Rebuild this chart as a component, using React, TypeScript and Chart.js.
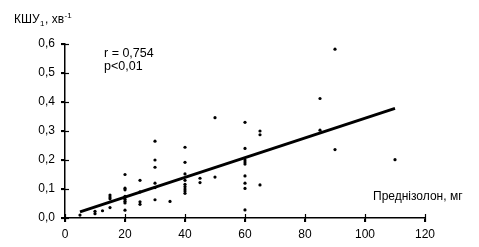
import React, { useEffect, useRef } from "react";
import { Chart, registerables } from "chart.js";

Chart.register(...registerables);

// Prednisolone dose (mg)
const doseMg: number[] = [
  5,
  10, 10,
  12.5,
  15, 15, 15, 15,
  20, 20, 20, 20, 20, 20, 20, 20,
  25, 25, 25, 25,
  30, 30, 30, 30, 30, 30,
  35,
  40, 40, 40, 40, 40, 40, 40, 40, 40,
  45, 45,
  50, 50,
  60, 60, 60, 60, 60, 60, 60, 60, 60,
  65, 65, 65,
  85, 85,
  90, 90,
  110,
];
// KSHU values (min^-1)
const kshu: number[] = [
  0.01,
  0.023, 0.015,
  0.025,
  0.079, 0.072, 0.066, 0.036,
  0.15, 0.103, 0.097, 0.075, 0.065, 0.058, 0.052, 0.027,
  0.13, 0.09, 0.056, 0.047,
  0.265, 0.2, 0.175, 0.12, 0.105, 0.063,
  0.057,
  0.244, 0.192, 0.152, 0.13, 0.116, 0.108, 0.1, 0.093, 0.085,
  0.137, 0.122,
  0.346, 0.141,
  0.33, 0.24, 0.2, 0.193, 0.186, 0.145, 0.12, 0.102, 0.028,
  0.3, 0.287, 0.114,
  0.412, 0.303,
  0.582, 0.236,
  0.201,
];
// Regression line endpoints
const trendX: number[] = [5, 110];
const trendY: number[] = [0.021, 0.378];

const xTicks: number[] = [0, 20, 40, 60, 80, 100, 120];
const yTicks: number[] = [0, 0.1, 0.2, 0.3, 0.4, 0.5, 0.6];

const statText: string[] = ["r = 0,754", "p<0,01"];
const xTitle = "Преднізолон, мг";

const FONT = "'Liberation Sans', Arial, sans-serif";

export default function App() {
  const ref = useRef<HTMLCanvasElement | null>(null);

  useEffect(() => {
    if (!ref.current) return;
    const textPlugin = {
      id: "extras",
      afterDraw(chart: any) {
        const ctx = chart.ctx;
        const xs = chart.scales.x;
        const ys = chart.scales.y;
        ctx.save();
        // inner halves of the crossing ticks
        ctx.strokeStyle = "#000";
        ctx.lineWidth = 1.2;
        const left = chart.chartArea.left;
        const bottom = chart.chartArea.bottom;
        yTicks.forEach((v) => {
          const y = Math.round(ys.getPixelForValue(v)) + 0.5;
          ctx.beginPath();
          ctx.moveTo(left - 4, y);
          ctx.lineTo(left + 4, y);
          ctx.stroke();
        });
        xTicks.forEach((v) => {
          const x = Math.round(xs.getPixelForValue(v)) + 0.5;
          ctx.beginPath();
          ctx.moveTo(x, bottom + 4);
          ctx.lineTo(x, bottom - 4);
          ctx.stroke();
        });
        ctx.fillStyle = "#000";
        ctx.textBaseline = "alphabetic";
        ctx.textAlign = "left";
        // y title with subscript and superscript
        ctx.font = `12px ${FONT}`;
        let x = 14;
        const base = 23;
        ctx.fillText("КШУ", x, base);
        x += ctx.measureText("КШУ").width;
        ctx.font = `8px ${FONT}`;
        ctx.fillText("1", x + 0.5, base + 3);
        x += ctx.measureText("1").width + 1;
        ctx.font = `12px ${FONT}`;
        ctx.fillText(", хв", x, base);
        x += ctx.measureText(", хв").width;
        ctx.font = `8px ${FONT}`;
        ctx.fillText("-1", x + 0.5, base - 5);
        // stats
        ctx.font = `12.5px ${FONT}`;
        ctx.fillText(statText[0], 104, 57);
        ctx.fillText(statText[1], 104, 70);
        // x title
        ctx.font = `12px ${FONT}`;
        ctx.fillText(xTitle, 373, 200);
        ctx.restore();
      },
    };

    const fmtY = (v: any) => Number(v).toFixed(1).replace(".", ",");

    const chart = new Chart(ref.current, {
      type: "scatter",
      data: {
        datasets: [
          {
            type: "scatter",
            data: doseMg.map((d, i) => ({ x: d, y: kshu[i] })),
            pointRadius: 1.6,
            pointBackgroundColor: "#000",
            pointBorderWidth: 0,
            borderColor: "#000",
          },
          {
            type: "line",
            data: trendX.map((d, i) => ({ x: d, y: trendY[i] })),
            borderColor: "#000",
            borderWidth: 3,
            pointRadius: 0,
            fill: false,
          } as any,
        ],
      },
      options: {
        animation: false,
        responsive: false,
        maintainAspectRatio: false,
        devicePixelRatio: 1,
        layout: { padding: { left: 0, top: 44, right: 54, bottom: 0 } },
        plugins: { legend: { display: false }, tooltip: { enabled: false } },
        scales: {
          x: {
            type: "linear",
            min: 0,
            max: 120,
            afterBuildTicks: (s: any) => {
              s.ticks = xTicks.map((v) => ({ value: v }));
            },
            afterFit: (s: any) => {
              s.height = 29;
            },
            ticks: {
              color: "#000",
              font: { family: FONT, size: 12 },
              padding: 5,
              maxRotation: 0,
              autoSkip: false,
            },
            grid: {
              drawOnChartArea: false,
              drawTicks: true,
              tickLength: 4,
              color: "#000",
              lineWidth: 1.2,
            },
            border: { display: true, color: "#000", width: 1.5 },
          },
          y: {
            type: "linear",
            min: 0,
            max: 0.6,
            afterBuildTicks: (s: any) => {
              s.ticks = yTicks.map((v) => ({ value: v }));
            },
            afterFit: (s: any) => {
              s.width = 65;
            },
            ticks: {
              color: "#000",
              font: { family: FONT, size: 12 },
              padding: 6,
              callback: fmtY,
              autoSkip: false,
            },
            grid: {
              drawOnChartArea: false,
              drawTicks: true,
              tickLength: 4,
              color: "#000",
              lineWidth: 1.2,
            },
            border: { display: true, color: "#000", width: 1.5 },
          },
        },
      },
      plugins: [textPlugin],
    } as any);
    return () => chart.destroy();
  }, []);

  return (
    <div style={{ position: "fixed", left: 0, top: 0, width: 479, height: 247, background: "#fff" }}>
      <canvas ref={ref} width={479} height={247} style={{ width: 479, height: 247, display: "block" }} />
    </div>
  );
}
